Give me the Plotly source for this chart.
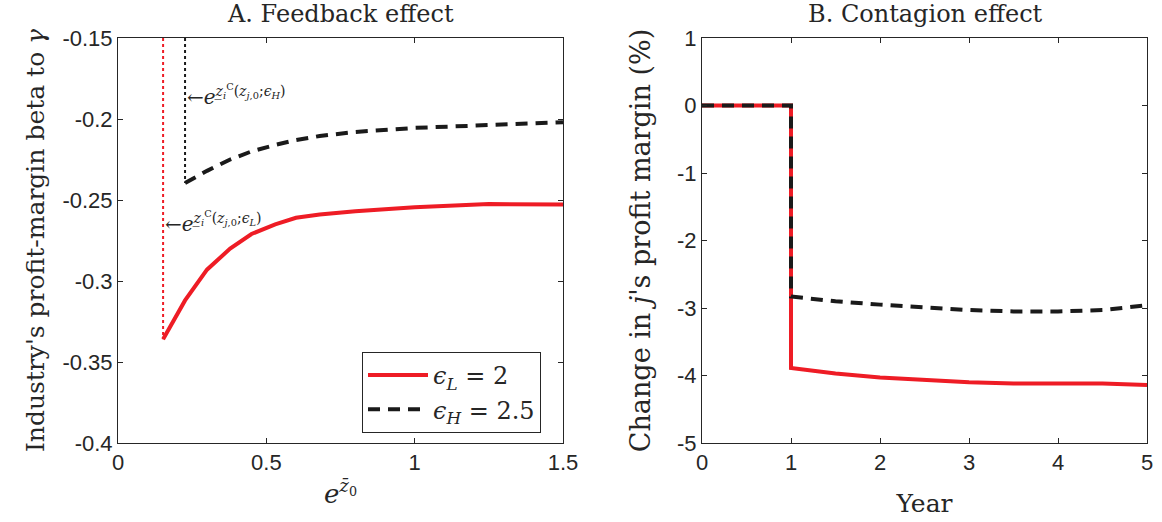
import plotly.graph_objects as go

# ---- Panel A data ----
xA_L = [0.152, 0.226, 0.30, 0.378, 0.45, 0.53, 0.60, 0.68, 0.80, 1.0, 1.25, 1.5]
yA_L = [-0.336, -0.312, -0.293, -0.280, -0.271, -0.265, -0.261, -0.259, -0.257, -0.2545, -0.2525, -0.2528]
xA_H = [0.226, 0.30, 0.378, 0.45, 0.53, 0.60, 0.68, 0.80, 1.0, 1.25, 1.5]
yA_H = [-0.2395, -0.232, -0.225, -0.220, -0.216, -0.213, -0.2105, -0.208, -0.2055, -0.2037, -0.202]
thresh_L = 0.152
thresh_H = 0.226
y_top = -0.15

# ---- Panel B data ----
xB = [0, 1, 1, 1.5, 2, 2.5, 3, 3.5, 4, 4.5, 5]
yB_L = [0, 0, -3.89, -3.97, -4.03, -4.07, -4.10, -4.12, -4.12, -4.12, -4.14]
yB_H = [0, 0, -2.83, -2.90, -2.95, -2.99, -3.03, -3.05, -3.05, -3.03, -2.96]

xticksA = [0, 0.5, 1, 1.5]
xlabelsA = ["0", "0.5", "1", "1.5"]
yticksA = [-0.4, -0.35, -0.3, -0.25, -0.2, -0.15]
ylabelsA = ["-0.4", "-0.35", "-0.3", "-0.25", "-0.2", "-0.15"]
xticksB = [0, 1, 2, 3, 4, 5]
xlabelsB = ["0", "1", "2", "3", "4", "5"]
yticksB = [-5, -4, -3, -2, -1, 0, 1]
ylabelsB = ["-5", "-4", "-3", "-2", "-1", "0", "1"]

RED = "#ee1c25"
BLK = "#1a1a1a"
SERIF = "DejaVu Serif, serif"
SANS = "Liberation Sans, Arial, sans-serif"
TXT = "#262626"

W, H = 1162, 522
def px(x): return x / W
def py(y): return 1 - y / H

fig = go.Figure()

# Panel A
fig.add_trace(go.Scatter(x=[thresh_L, thresh_L], y=[y_top, yA_L[0]], mode="lines",
                         line=dict(color=RED, width=2, dash="dot"), showlegend=False,
                         xaxis="x", yaxis="y"))
fig.add_trace(go.Scatter(x=[thresh_H, thresh_H], y=[y_top, yA_H[0]], mode="lines",
                         line=dict(color=BLK, width=2, dash="dot"), showlegend=False,
                         xaxis="x", yaxis="y"))
fig.add_trace(go.Scatter(x=xA_L, y=yA_L, mode="lines", name="<i>ϵ</i><sub><i>L</i></sub> = 2",
                         line=dict(color=RED, width=4), xaxis="x", yaxis="y"))
fig.add_trace(go.Scatter(x=xA_H, y=yA_H, mode="lines", name="<i>ϵ</i><sub><i>H</i></sub> = 2.5",
                         line=dict(color=BLK, width=4, dash="12px,8px"), xaxis="x", yaxis="y"))

# Panel B
fig.add_trace(go.Scatter(x=xB, y=yB_L, mode="lines", line=dict(color=RED, width=4),
                         showlegend=False, xaxis="x2", yaxis="y2"))
fig.add_trace(go.Scatter(x=xB, y=yB_H, mode="lines", line=dict(color=BLK, width=4, dash="12px,8px"),
                         showlegend=False, xaxis="x2", yaxis="y2"))

axis_common = dict(showgrid=False, zeroline=False, showline=True, linecolor=TXT,
                   linewidth=1, mirror="allticks", ticks="inside", ticklen=5, tickcolor=TXT,
                   tickfont=dict(family=SANS, size=22, color=TXT), automargin=False)

fig.update_layout(
    width=W, height=H,
    margin=dict(l=0, r=0, t=0, b=0),
    paper_bgcolor="white", plot_bgcolor="white",
    xaxis=dict(domain=[px(118), px(563)], range=[0, 1.5], tickvals=xticksA,
               ticktext=xlabelsA, anchor="y",
               title=dict(text="<i>e</i><sup><i>z̄</i><sub>0</sub></sup>", font=dict(family=SERIF, size=26, color=TXT), standoff=10),
               **axis_common),
    yaxis=dict(domain=[py(443), py(38)], range=[-0.4, -0.15], tickvals=yticksA,
               ticktext=ylabelsA, anchor="x",
               title=dict(text="Industry's profit-margin beta to <i>γ</i>", font=dict(family=SERIF, size=25, color=TXT), standoff=10),
               **axis_common),
    xaxis2=dict(domain=[px(702), px(1147)], range=[0, 5], tickvals=xticksB, ticktext=xlabelsB, anchor="y2",
                title=dict(text="Year", font=dict(family=SERIF, size=25, color=TXT), standoff=20),
                **axis_common),
    yaxis2=dict(domain=[py(443), py(38)], range=[-5, 1], tickvals=yticksB, ticktext=ylabelsB, anchor="x2",
                title=dict(text="Change in <i>j</i>'s profit margin (%)", font=dict(family=SERIF, size=27, color=TXT), standoff=18),
                **axis_common),
    legend=dict(x=px(362), y=py(352), xanchor="left", yanchor="top",
                bordercolor=TXT, borderwidth=1, bgcolor="white", itemwidth=60,
                font=dict(family=SERIF, size=24, color=TXT), tracegroupgap=0),
    annotations=[
        dict(text="A. Feedback effect", x=px(340), y=py(14), xref="paper", yref="paper",
             xanchor="center", yanchor="middle",
             showarrow=False, font=dict(family=SERIF, size=24, color=TXT)),
        dict(text="B. Contagion effect", x=px(925), y=py(14), xref="paper", yref="paper",
             xanchor="center", yanchor="middle",
             showarrow=False, font=dict(family=SERIF, size=24, color=TXT)),
        dict(text="←<i>e</i><sup><i>z̲</i><sub><i>i</i></sub><sup>C</sup>(<i>z</i><sub><i>j</i>,0</sub>;<i>ϵ</i><sub><i>H</i></sub>)</sup>",
             x=thresh_H, y=-0.185, xref="x", yref="y", xanchor="left", yanchor="middle",
             showarrow=False, font=dict(family=SERIF, size=20, color=TXT)),
        dict(text="←<i>e</i><sup><i>z̲</i><sub><i>i</i></sub><sup>C</sup>(<i>z</i><sub><i>j</i>,0</sub>;<i>ϵ</i><sub><i>L</i></sub>)</sup>",
             x=thresh_L, y=-0.2635, xref="x", yref="y", xanchor="left", yanchor="middle",
             showarrow=False, font=dict(family=SERIF, size=20, color=TXT)),
    ],
)

fig.write_html("out.html")
